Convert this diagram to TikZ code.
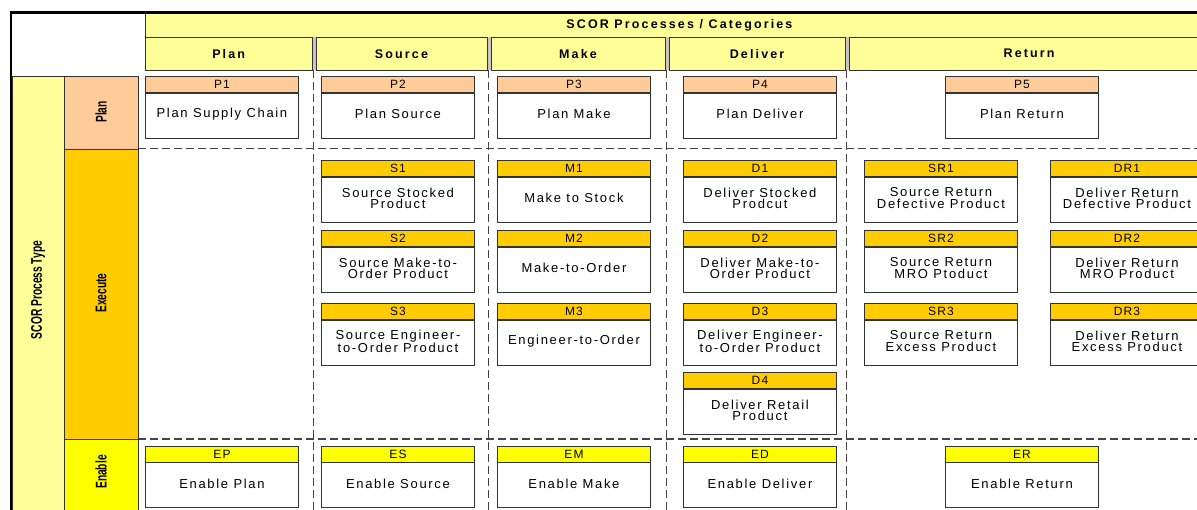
\documentclass[tikz,border=0pt]{standalone}
\usepackage{fontspec}
\setmainfont{Liberation Sans}
\newfontfamily\bodyfont{Liberation Sans}[LetterSpace=13]
\newfontfamily\codefont{Liberation Sans}[LetterSpace=10]
\newfontfamily\headfont{Liberation Sans}[LetterSpace=17]
\newfontfamily\sidefont{Liberation Sans}

\definecolor{planfill}{HTML}{FFCC99}
\definecolor{execfill}{HTML}{FFCC00}
\definecolor{enabfill}{HTML}{FFFF00}
\definecolor{headfill}{HTML}{FFFF99}
\definecolor{edge}{HTML}{333333}
\definecolor{gridline}{HTML}{444444}

% one process element: coloured code band on top of a white description box
\newcommand\procbox[6]{%
  \node[codeband, fill=#4] (#1-code) at (#2,#3) {#5};
  \node[descbox] (#1) at (#1-code.south) {};
  \node[desctext] (#1-text) at ([yshift=1.6pt]#1.center) {#6};
}

\begin{document}
\begin{tikzpicture}[x=1pt, y=-1pt,
  codeband/.style={draw=edge, line width=0.9pt, minimum width=153pt,
    minimum height=16pt, inner sep=0pt, anchor=north west,
    font=\codefont\fontsize{12}{12}\selectfont},
  descbox/.style={draw=edge, line width=0.9pt, fill=white, minimum width=153pt,
    minimum height=45pt, inner sep=0pt, anchor=north},
  desctext/.style={inner sep=0pt, align=center,
    font=\bodyfont\fontsize{13}{11.8}\selectfont},
  headcell/.style={draw=edge, line width=0.8pt, fill=headfill, inner sep=0pt,
    anchor=north west, font=\headfont\bfseries\fontsize{12.5}{12.5}\selectfont},
  sidecell/.style={draw=edge, line width=0.8pt, inner sep=0pt, anchor=north west},
  sidelabel/.style={rotate=90, inner sep=0pt,
    font=\sidefont\bfseries\fontsize{15.5}{15.5}\selectfont},
  gridrule/.style={draw=gridline, line width=1.2pt, dash pattern=on 7.5pt off 4.5pt},
]
\useasboundingbox (0,0) rectangle (1197,509);
\clip (0,0) rectangle (1197,509);
\fill[white] (0,0) rectangle (1197,509);

% dashed grid separating process types and categories
\draw[gridrule] (138,148.5) -- (1200,148.5);
\draw[gridrule] (138,439) -- (1200,439);
\foreach \gx in {313.3,488.6,666.6,846.7}
  \draw[gridrule] (\gx,70) -- (\gx,512);

% column headers
\node[headcell, minimum width=1060pt, minimum height=23.7pt] (cats) at (145,13)
  {\hspace*{8pt}SCOR Processes / Categories};
\fill[gray!45] (311.5,36.7) rectangle (315.5,70);
\fill[gray!45] (486.6,36.7) rectangle (490.6,70);
\fill[gray!45] (664.6,36.7) rectangle (668.6,70);
\fill[gray!45] (844.7,36.7) rectangle (848.7,70);
\node[headcell, minimum width=166.5pt, minimum height=33.3pt] (hplan) at (145,36.7) {Plan};
\node[headcell, minimum width=171.1pt, minimum height=33.3pt] (hsource) at (315.5,36.7) {Source};
\node[headcell, minimum width=174pt, minimum height=33.3pt] (hmake) at (490.6,36.7) {Make};
\node[headcell, minimum width=176.1pt, minimum height=33.3pt] (hdeliver) at (668.6,36.7) {Deliver};
\node[headcell, minimum width=360pt, minimum height=33.3pt] (hreturn) at (848.7,36.7) {Return};

% process type column
\node[sidecell, fill=headfill, minimum width=52pt, minimum height=440pt] (ptype) at (12,75.5) {};
\node[sidecell, fill=planfill, minimum width=74pt, minimum height=73pt] (tplan) at (64,75.5) {};
\node[sidecell, fill=execfill, minimum width=74pt, minimum height=290.5pt] (texec) at (64,148.5) {};
\node[sidecell, fill=enabfill, minimum width=74pt, minimum height=80pt] (tenab) at (64,439) {};
\node[sidelabel] (ptypelbl) at (38,290) {\scalebox{0.66}[1]{SCOR Process Type}};
\node[sidelabel] (tplanlbl) at (101,112) {\scalebox{0.66}[1]{Plan}};
\node[sidelabel] (texeclbl) at (101,293) {\scalebox{0.66}[1]{Execute}};
\node[sidelabel] (tenablbl) at (101,472) {\scalebox{0.66}[1]{Enable}};

% outer frame
\draw[line width=2.6pt, line cap=rect] (11,512) -- (11,12.5) -- (1200,12.5);

% plan processes
\procbox{P1}{145}{76}{planfill}{P1}{Plan Supply Chain}
\procbox{P2}{321}{76}{planfill}{P2}{Plan Source}
\procbox{P3}{497}{76}{planfill}{P3}{Plan Make}
\procbox{P4}{683}{76}{planfill}{P4}{Plan Deliver}
\procbox{P5}{945}{76}{planfill}{P5}{Plan Return}

% execute processes
\procbox{S1}{321}{160}{execfill}{S1}{Source Stocked\\Product}
\procbox{S2}{321}{230}{execfill}{S2}{Source Make-to-\\Order Product}
\procbox{S3}{321}{303}{execfill}{S3}{Source Engineer-\\to-Order Product}
\procbox{M1}{497}{160}{execfill}{M1}{Make to Stock}
\procbox{M2}{497}{230}{execfill}{M2}{Make-to-Order}
\procbox{M3}{497}{303}{execfill}{M3}{Engineer-to-Order}
\procbox{D1}{683}{160}{execfill}{D1}{Deliver Stocked\\Prodcut}
\procbox{D2}{683}{230}{execfill}{D2}{Deliver Make-to-\\Order Product}
\procbox{D3}{683}{303}{execfill}{D3}{Deliver Engineer-\\to-Order Product}
\procbox{D4}{683}{372}{execfill}{D4}{Deliver Retail\\Product}
\procbox{SR1}{864}{160}{execfill}{SR1}{Source Return\\Defective Product}
\procbox{SR2}{864}{230}{execfill}{SR2}{Source Return\\MRO Ptoduct}
\procbox{SR3}{864}{303}{execfill}{SR3}{Source Return\\Excess Product}
\procbox{DR1}{1050}{160}{execfill}{DR1}{Deliver Return\\Defective Product}
\procbox{DR2}{1050}{230}{execfill}{DR2}{Deliver Return\\MRO Product}
\procbox{DR3}{1050}{303}{execfill}{DR3}{Deliver Return\\Excess Product}

% enable processes
\procbox{EP}{145}{445.5}{enabfill}{EP}{Enable Plan}
\procbox{ES}{321}{445.5}{enabfill}{ES}{Enable Source}
\procbox{EM}{497}{445.5}{enabfill}{EM}{Enable Make}
\procbox{ED}{683}{445.5}{enabfill}{ED}{Enable Deliver}
\procbox{ER}{945}{445.5}{enabfill}{ER}{Enable Return}
\end{tikzpicture}
\end{document}
